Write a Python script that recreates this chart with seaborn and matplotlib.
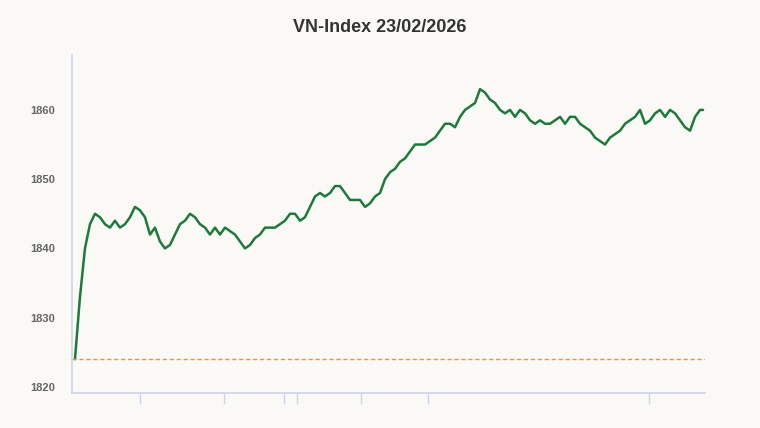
import matplotlib
matplotlib.use("Agg")
import matplotlib.pyplot as plt
import seaborn as sns
import pandas as pd
import numpy as np

values = [1824,1833,1840,1843.5,1845,1844.5,1843.5,1843,1844,1843,1843.5,1844.5,1846,1845.5,1844.5,1842,1843,1841,1840,1840.5,
1842,1843.5,1844,1845,1844.5,1843.5,1843,1842,1843,1842,1843,1842.5,1842,1841,1840,1840.5,1841.5,1842,1843,1843,
1843,1843.5,1844,1845,1845,1844,1844.5,1846,1847.5,1848,1847.5,1848,1849,1849,1848,1847,1847,1847,1846,1846.5,
1847.5,1848,1850,1851,1851.5,1852.5,1853,1854,1855,1855,1855,1855.5,1856,1857,1858,1858,1857.5,1859,1860,1860.5,
1861,1863,1862.5,1861.5,1861,1860,1859.5,1860,1859,1860,1859.5,1858.5,1858,1858.5,1858,1858,1858.5,1859,1858,1859,
1859,1858,1857.5,1857,1856,1855.5,1855,1856,1856.5,1857,1858,1858.5,1859,1860,1858,1858.5,1859.5,1860,1859,1860,
1859.5,1858.5,1857.5,1857,1859,1860,1860]
reference = 1824
yticks = [1820, 1830, 1840, 1850, 1860]
title = "VN-Index 23/02/2026"

x = np.arange(len(values), dtype=float)
x[-1] = len(values) - 1.4
df = pd.DataFrame({"t": x, "v": values})

sns.set_theme(style="white")
plt.rcParams['font.family'] = ['Liberation Sans', 'DejaVu Sans']
bg = "#faf9f6"
fig = plt.figure(figsize=(7.6, 4.28), dpi=100, facecolor=bg)
ax = fig.add_axes([0.0947, 0.082, 0.833, 0.789], facecolor=bg)
sns.lineplot(data=df, x="t", y="v", ax=ax, color="#1e7a3a", linewidth=1.8)
ax.axhline(reference, color="#f0903a", linestyle=(0, (3, 2)), linewidth=1)
ax.set_xlim(-0.6, 126)
ax.set_ylim(1819.13, 1867.9)
ax.set_yticks(yticks)
ax.set_yticklabels([str(v) for v in yticks], fontsize=8, color="#666666", fontweight="bold")
ax.set_xticks([13, 29.8, 41.8, 44.4, 57.2, 70.6, 114.8])
ax.set_xticklabels([])
ax.tick_params(axis="x", bottom=True, length=8, color="#ccd6eb", width=1, direction="out")
ax.tick_params(axis="y", left=False, length=0, pad=12)
ax.set_xlabel("")
ax.set_ylabel("")
for s in ["top", "right"]:
    ax.spines[s].set_visible(False)
for s in ["left", "bottom"]:
    ax.spines[s].set_color("#ccd6eb")
ax.grid(False)
fig.text(0.5, 0.935, title, ha="center", va="center", fontsize=13, fontweight="bold", color="#333333")
fig.savefig("out.png", dpi=100, facecolor=bg)
